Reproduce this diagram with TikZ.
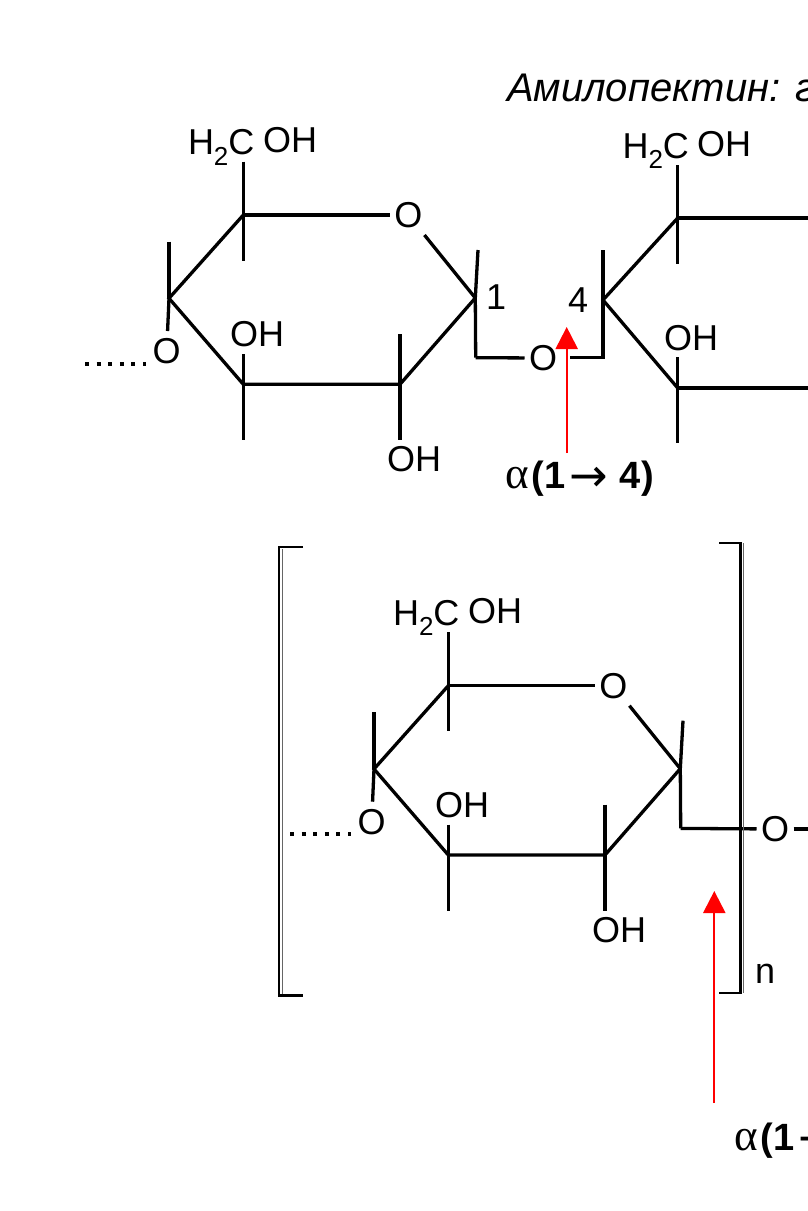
\documentclass[tikz,border=0pt]{standalone}
\usepackage{fontspec}
\setmainfont{Liberation Sans}
\newfontfamily\greekfont{Liberation Serif}
\newfontfamily\arrowfont{DejaVu Sans}
\usetikzlibrary{arrows.meta}
\newcommand{\labfont}{\fontsize{36}{40}\selectfont}
\newcommand{\hhc}{H\raisebox{-10.5pt}{\fontsize{26}{28}\selectfont 2}C}
\newcommand{\alphalabel}[1]{\fontsize{38}{42}\selectfont{\greekfont\fontsize{45}{46}\selectfont α}\kern3pt\textbf{(1}\kern4pt\raisebox{-3pt}{\arrowfont\fontsize{46}{48}\selectfont →}#1}
\tikzset{
  bond/.style={line width=3.3pt,black,line cap=butt,line join=miter},
  chem/.style={inner sep=0pt,outer sep=0pt,anchor=base west,font=\labfont,text=black},
  oxy/.style={inner sep=0pt,outer sep=0pt,minimum width=37pt,minimum height=40pt,font=\labfont,text=black},
  dotted bond/.style={line width=4pt,black,dash pattern=on 4pt off 7.6pt},
  redarrow/.style={line width=2.2pt,red,-{Triangle[length=22pt,width=22pt]}},
  brack/.style={line width=2.2pt,black},
  brackshade/.style={line width=1.6pt,black!60}
}
% one glucose unit: #1 = name prefix
\newcommand{\sugar}[1]{%
  \coordinate (#1c5) at (243.3,215);
  \coordinate (#1c4) at (169,298.3);
  \coordinate (#1c3) at (243.3,384.3);
  \coordinate (#1c2) at (400,384.3);
  \coordinate (#1c1) at (475.3,298);
  \coordinate (#1c5a) at (243.3,161.7);
  \coordinate (#1c5b) at (243.3,260.7);
  \coordinate (#1c4a) at (169,241.7);
  \coordinate (#1c3a) at (243.3,354);
  \coordinate (#1c3b) at (243.3,440);
  \coordinate (#1c2a) at (400,334);
  \coordinate (#1c2b) at (400,440);
  \coordinate (#1c1a) at (478,250);
  \coordinate (#1c1d) at (475.7,357.7);
  \coordinate (#1dotA) at (85,363.5);
  \coordinate (#1dotB) at (146,363.5);
  \node[oxy] (#1ro) at (408.3,215) {O};
  \node[oxy] (#1lo) at (166.7,351) {O};
  \node[chem] (#1t1) at (188,154.5) {\hhc};
  \node[chem] (#1t2) at (263,152.7) {OH};
  \node[chem] (#1t3) at (230,346.7) {OH};
  \node[chem] (#1t4) at (387,471.7) {OH};
  \draw[bond] (#1c5) -- (#1ro);
  \draw[bond] (#1ro) -- (#1c1);
  \draw[bond] (#1c1) -- (#1c2) -- (#1c3) -- (#1c4) -- (#1c5);
  \draw[bond] (#1c5a) -- (#1c5b);
  \draw[bond] (#1c4a) -- (#1c4);
  \draw[bond] (#1c4) -- (#1lo);
  \draw[bond] (#1c3a) -- (#1c3b);
  \draw[bond] (#1c2a) -- (#1c2b);
  \draw[bond] (#1c1a) -- (#1c1) -- (#1c1d);
  \draw[dotted bond] (#1dotA) -- (#1dotB);
}
\begin{document}
\begin{tikzpicture}[x=1pt,y=-1pt]
\clip (0,0) rectangle (808,1211);
\fill[white] (0,0) rectangle (808,1211);

% title
\node[chem,font=\fontsize{40}{44}\selectfont\itshape] (title) at (507,101.5) {Амилопектин: г};

% upper chain
\begin{scope}
\sugar{a}
\end{scope}
\node[oxy] (abo) at (543,358) {O};
\coordinate (abr) at (570,357.7);
\coordinate (bd) at (603,357.7);
\coordinate (bu) at (603,250);
\coordinate (bc4) at (603,300);
\coordinate (bc5) at (677.7,218);
\coordinate (bc3) at (677.7,388);
\coordinate (bc5a) at (677.7,165);
\coordinate (bc5b) at (677.7,264);
\coordinate (bc3a) at (677.7,357);
\coordinate (bc3b) at (677.7,443);
\coordinate (bc5r) at (810,218);
\coordinate (bc3r) at (810,388);
\draw[bond] (ac1d) -- (abo);
\draw[bond] (abr) -- (bd) -- (bu);
\draw[bond] (bc5) -- (bc4) -- (bc3);
\draw[bond] (bc5a) -- (bc5b);
\draw[bond] (bc3a) -- (bc3b);
\draw[bond] (bc5) -- (bc5r);
\draw[bond] (bc3) -- (bc3r);
\node[chem] (bt1) at (622.5,158) {\hhc};
\node[chem] (bt2) at (697,156.5) {OH};
\node[chem] (bt3) at (664,350) {OH};
\node[chem] (n1) at (486,309.5) {1};
\node[chem] (n4) at (568,312) {4};
\coordinate (ar1s) at (566.7,453);
\coordinate (ar1e) at (566.7,327);
\draw[redarrow] (ar1s) -- (ar1e);
\node[chem,font=\fontsize{38}{42}\selectfont] (lab1) at (505,488) {\alphalabel{\kern12pt\textbf{4)}}};

% lower chain
\begin{scope}[shift={(205,470.7)}]
\sugar{c}
\end{scope}
\node[oxy] (cbo) at (775,829) {O};
\coordinate (cbr) at (810,829);
\draw[bond] (cc1d) -- (cbo);
\draw[bond] (cbo) -- (cbr);

% brackets
\coordinate (l1) at (303,547);
\coordinate (l2) at (279,547);
\coordinate (l3) at (279,995.5);
\coordinate (l4) at (303,995.5);
\coordinate (l2s) at (282.5,549);
\coordinate (l3s) at (282.5,993.5);
\draw[brackshade] (l2s) -- (l3s);
\draw[brack] (l1) -- (l2) -- (l3) -- (l4);
\coordinate (r1) at (719,543);
\coordinate (r2) at (740.5,543);
\coordinate (r3) at (740.5,993);
\coordinate (r4) at (719,993);
\coordinate (r2s) at (743.5,543);
\coordinate (r3s) at (743.5,993);
\draw[brackshade] (r2s) -- (r3s);
\draw[brack] (r1) -- (r2) -- (r3) -- (r4);
\node[chem] (nn) at (755,983) {n};

\coordinate (ar2s) at (714.3,1103);
\coordinate (ar2e) at (714.3,891);
\draw[redarrow] (ar2s) -- (ar2e);
\node[chem,font=\fontsize{38}{42}\selectfont] (lab2) at (734,1150) {\alphalabel{}};
\end{tikzpicture}
\end{document}
